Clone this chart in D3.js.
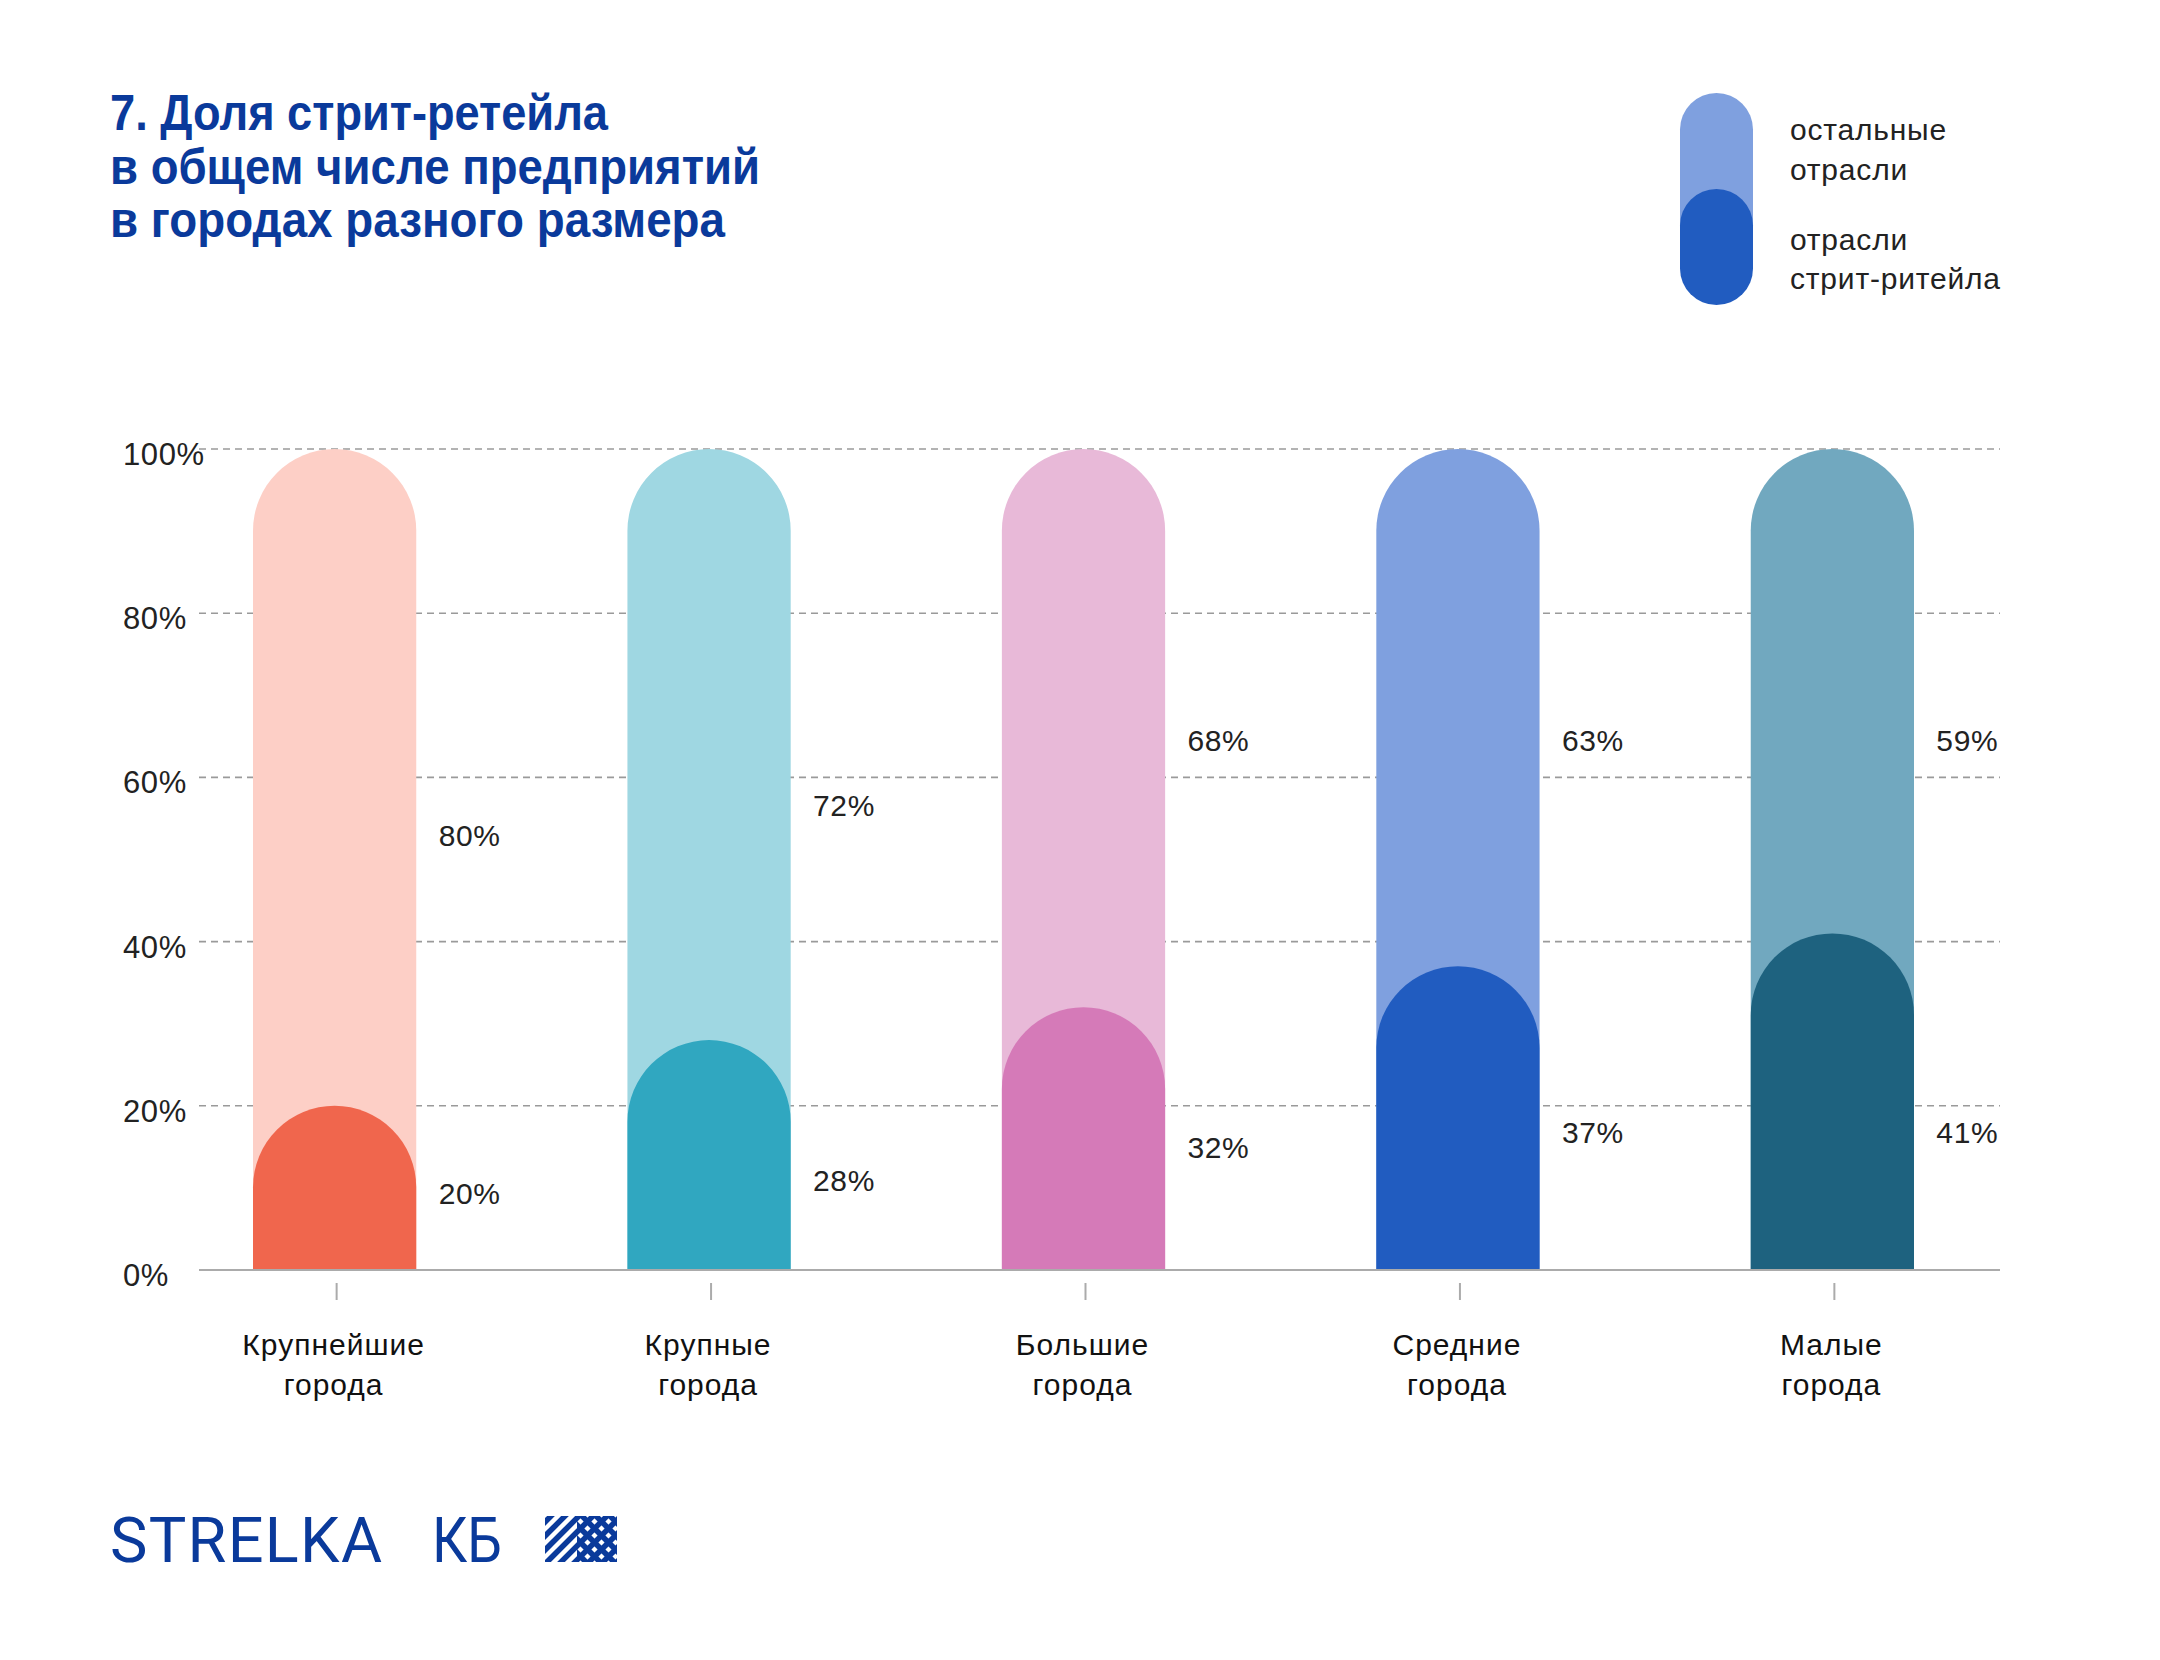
<!DOCTYPE html>
<html>
<head>
<meta charset="utf-8">
<script src="https://cdn.jsdelivr.net/npm/d3@7"></script>
<style>
  html, body { margin: 0; padding: 0; background: #ffffff; }
  svg { display: block; }
  text { font-family: "Liberation Sans", Arial, sans-serif; }
</style>
</head>
<body>
<script>
// ---------- DATA ----------
const titleLines = ["7. Доля стрит-ретейла", "в общем числе предприятий", "в городах разного размера"];
const categories = ["Крупнейшие города", "Крупные города", "Большие города", "Средние города", "Малые города"];
const streetRetail = [20, 28, 32, 37, 41];      // отрасли стрит-ритейла
const otherIndustries = [80, 72, 68, 63, 59];   // остальные отрасли
const yTicks = [0, 20, 40, 60, 80, 100];
const lightColors = ["#fdcfc6", "#9fd7e2", "#e8b9d8", "#7fa0df", "#71a8bf"];
const darkColors  = ["#f0664d", "#30a7c0", "#d57ab8", "#215cc0", "#1e627f"];
const legendLabels = [["остальные", "отрасли"], ["отрасли", "стрит-ритейла"]];
const legendColors = ["#7fa0df", "#215cc0"];

// ---------- LAYOUT ----------
const W = 2160, H = 1660;
const blue = "#0a3a9b";
const textColor = "#222222";

const svg = d3.select("body").append("svg").attr("width", W).attr("height", H);

const x = d3.scaleBand().domain(categories).range([253, 1914]).paddingInner(0.564).paddingOuter(0);
const y = d3.scaleLinear().domain([0, 100]).range([1270, 449]);
const bw = x.bandwidth();
const r = bw / 2;

function pill(x0, w, yTop, yBottom) {
  const rr = w / 2;
  const p = d3.path();
  p.moveTo(x0, yBottom);
  p.lineTo(x0, yTop + rr);
  p.arc(x0 + rr, yTop + rr, rr, Math.PI, 0);
  p.lineTo(x0 + w, yBottom);
  p.closePath();
  return p.toString();
}

// ---------- TITLE ----------
const titleWidths = [498, 650, 615];
svg.append("g").selectAll("text").data(titleLines).join("text")
  .attr("x", 110)
  .attr("y", (d, i) => 130 + i * 53.5)
  .attr("fill", blue)
  .attr("font-size", 50)
  .attr("font-weight", 700)
  .attr("textLength", (d, i) => titleWidths[i])
  .attr("lengthAdjust", "spacingAndGlyphs")
  .text(d => d);

// ---------- LEGEND ----------
const lg = svg.append("g");
const lx = 1680, lw = 73;
lg.append("path").attr("d", pill(lx, lw, 93, 305 - lw / 2)).attr("fill", legendColors[0]);
lg.append("rect").attr("x", lx).attr("y", 189).attr("width", lw).attr("height", 305 - 189)
  .attr("rx", lw / 2).attr("ry", lw / 2).attr("fill", legendColors[1]);
const legendBaselines = [[140, 180], [250, 289]];
legendLabels.forEach((lines, i) => {
  lines.forEach((t, j) => {
    lg.append("text")
      .attr("x", 1790).attr("y", legendBaselines[i][j])
      .attr("font-size", 30).attr("letter-spacing", 0.8)
      .attr("fill", textColor).text(t);
  });
});

// ---------- GRID & AXES ----------
const grid = svg.append("g");
grid.selectAll("line").data(yTicks.filter(d => d > 0)).join("line")
  .attr("x1", 199).attr("x2", 2000)
  .attr("y1", d => y(d)).attr("y2", d => y(d))
  .attr("stroke", "#9a9a9a").attr("stroke-width", 1.6)
  .attr("stroke-dasharray", "7,5");

svg.append("g").selectAll("text").data(yTicks).join("text")
  .attr("x", 123).attr("y", d => y(d) + 16)
  .attr("font-size", 31).attr("letter-spacing", 0.6).attr("fill", textColor)
  .text(d => d + "%");

// ---------- BARS ----------
const bars = svg.append("g");
categories.forEach((c, i) => {
  const x0 = x(c);
  bars.append("path")
    .attr("d", pill(x0, bw, y(streetRetail[i] + otherIndustries[i]), y(0)))
    .attr("fill", lightColors[i]);
  bars.append("path")
    .attr("d", pill(x0, bw, y(streetRetail[i]), y(0)))
    .attr("fill", darkColors[i]);
});

// axis line
svg.append("line").attr("x1", 199).attr("x2", 2000).attr("y1", y(0)).attr("y2", y(0))
  .attr("stroke", "#ababab").attr("stroke-width", 2);

// ticks
svg.append("g").selectAll("line").data(categories).join("line")
  .attr("x1", d => x(d) + r + 2).attr("x2", d => x(d) + r + 2)
  .attr("y1", 1283).attr("y2", 1300)
  .attr("stroke", "#ababab").attr("stroke-width", 2);

// category labels
const cl = svg.append("g");
categories.forEach(c => {
  const words = c.split(" ");
  words.forEach((w, j) => {
    cl.append("text")
      .attr("x", x(c) + r - 1).attr("y", 1355 + j * 40)
      .attr("text-anchor", "middle")
      .attr("font-size", 30).attr("letter-spacing", 1)
      .attr("fill", "#111").text(w);
  });
});

// value labels (placement heuristic: beside the bar, within each segment)
const vl = svg.append("g");
categories.forEach((c, i) => {
  const dv = streetRetail[i];
  const lx0 = x(c) + r + 104;
  const lightPos = dv < 30 ? 44 + dv * 0.45 : 64.6;
  const darkPos = dv < 30 ? 5.4 + dv * 0.2 : Math.min(16.8, dv * 0.47);
  vl.append("text").attr("x", lx0).attr("y", y(lightPos) + 11)
    .attr("font-size", 30).attr("letter-spacing", 0.6).attr("fill", textColor).text(otherIndustries[i] + "%");
  vl.append("text").attr("x", lx0).attr("y", y(darkPos) + 11)
    .attr("font-size", 30).attr("letter-spacing", 0.6).attr("fill", textColor).text(dv + "%");
});

// ---------- LOGO ----------
const logo = svg.append("g");
logo.append("text").attr("x", 110).attr("y", 1562)
  .attr("font-size", 63).attr("fill", blue)
  .style("font-family", "Roboto, 'Liberation Sans', sans-serif")
  .attr("textLength", 272).attr("lengthAdjust", "spacing")
  .text("STRELKA");
logo.append("text").attr("x", 432).attr("y", 1562)
  .attr("font-size", 63).attr("fill", blue)
  .style("font-family", "Roboto, 'Liberation Sans', sans-serif")
  .attr("textLength", 70).attr("lengthAdjust", "spacingAndGlyphs")
  .text("КБ");

const px = 545, py = 1516, pw = 72, ph = 46;
const defs = svg.append("defs");
defs.append("clipPath").attr("id", "logoClip")
  .append("rect").attr("x", px).attr("y", py).attr("width", pw).attr("height", ph);
defs.append("clipPath").attr("id", "logoClipRight")
  .append("rect").attr("x", px + 32).attr("y", py).attr("width", pw - 32).attr("height", ph);
const pat = logo.append("g").attr("clip-path", "url(#logoClip)");
const step = 14;
d3.range(-6, 12).forEach(k => {
  const x1 = px + k * step;
  pat.append("line")
    .attr("x1", x1).attr("y1", py + ph + 2)
    .attr("x2", x1 + ph + 4).attr("y2", py - 2)
    .attr("stroke", blue).attr("stroke-width", 5.5);
});
const pat2 = logo.append("g").attr("clip-path", "url(#logoClipRight)");
d3.range(-4, 12).forEach(k => {
  const x1 = px + k * step + 7;
  pat2.append("line")
    .attr("x1", x1).attr("y1", py - 2)
    .attr("x2", x1 + ph + 4).attr("y2", py + ph + 2)
    .attr("stroke", blue).attr("stroke-width", 5.5);
});
</script>
</body>
</html>
